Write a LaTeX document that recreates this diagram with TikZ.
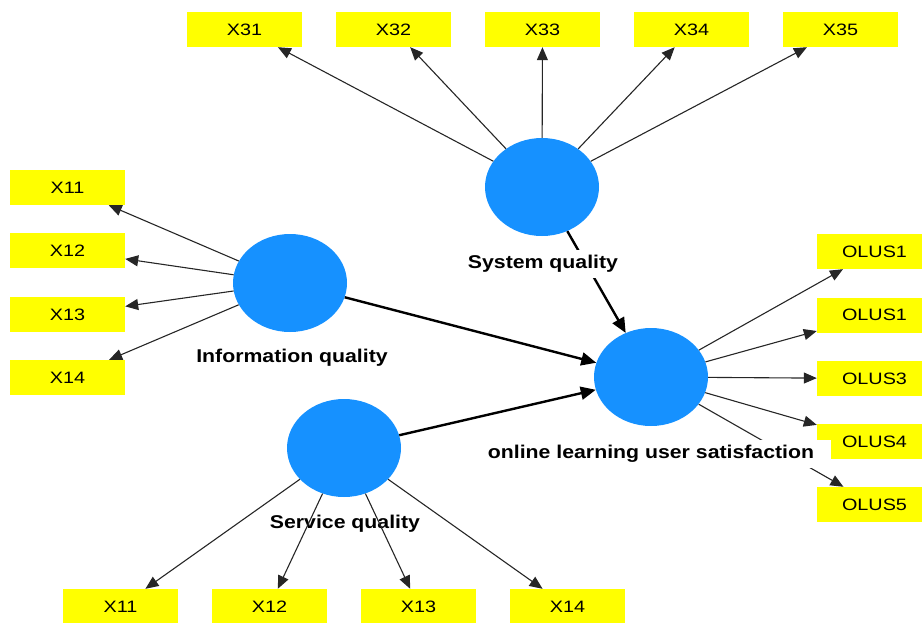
\documentclass[tikz,border=0pt]{standalone}
\usepackage{fontspec}
\newfontfamily\itemfont[FakeStretch=1.2]{Liberation Sans}
\newfontfamily\namefont[FakeStretch=1.15]{Liberation Sans}
\usetikzlibrary{shapes.geometric,arrows.meta}
\definecolor{lvblue}{RGB}{22,145,255}
\definecolor{mvyellow}{RGB}{255,255,0}

\begin{document}
\begin{tikzpicture}[x=1pt,y=-1pt,
  latent/.style={ellipse,fill=lvblue,minimum width=114pt,minimum height=98pt,inner sep=0pt},
  item/.style={rectangle,fill=mvyellow,minimum width=115pt,minimum height=35pt,inner sep=0pt,font=\itemfont\fontsize{16.5}{19}\selectfont},
  lvname/.style={fill=white,inner xsep=17pt,inner ysep=5pt,font=\namefont\bfseries\fontsize{18.5}{21}\selectfont},
  loading/.style={-{Triangle[length=13pt,width=11pt]},line width=1.1pt,black!85},
  structural/.style={-{Triangle[length=15pt,width=13pt]},line width=2.4pt}
]
\clip (0,0) rectangle (922,622);

% Latent variables
\node[latent] (sq) at (542,187) {};
\node[latent] (iq) at (290,283) {};
\node[latent] (svq) at (344,448) {};
\node[latent] (ols) at (651,377) {};

% System quality items
\node[item] (x31) at (244.5,29.5) {X31};
\node[item] (x32) at (393.5,29.5) {X32};
\node[item] (x33) at (542.5,29.5) {X33};
\node[item] (x34) at (691.5,29.5) {X34};
\node[item] (x35) at (840.5,29.5) {X35};

% Information quality items
\node[item] (i11) at (67.5,187.5) {X11};
\node[item] (i12) at (67.5,250.5) {X12};
\node[item] (i13) at (67.5,314.5) {X13};
\node[item] (i14) at (67.5,377.5) {X14};

% Service quality items
\node[item] (s11) at (120.5,606.5) {X11};
\node[item] (s12) at (269.5,606.5) {X12};
\node[item] (s13) at (418.5,606.5) {X13};
\node[item] (s14) at (567.5,606.5) {X14};

% Satisfaction items
\node[item] (o1) at (874.5,251.5) {OLUS1};
\node[item] (o2) at (874.5,315) {OLUS1};
\node[item] (o3) at (874.5,378.5) {OLUS3};
\node[item] (o4) at (874.5,441.5) {OLUS4};
\node[item] (o5) at (874.5,504.5) {OLUS5};

% Service quality name (lines run over it)
\node[lvname,fill=none] (svqname) at (345,524) {Service quality};

% Outer loadings
\draw[loading] (sq) -- (x31);
\draw[loading] (sq) -- (x32);
\draw[loading] (sq) -- (x33);
\draw[loading] (sq) -- (x34);
\draw[loading] (sq) -- (x35);
\draw[loading] (iq) -- (i11);
\draw[loading] (iq) -- (i12);
\draw[loading] (iq) -- (i13);
\draw[loading] (iq) -- (i14);
\draw[loading] (svq) -- (s11);
\draw[loading] (svq) -- (s12);
\draw[loading] (svq) -- (s13);
\draw[loading] (svq) -- (s14);
\draw[loading] (ols) -- (o1);
\draw[loading] (ols) -- (o2);
\draw[loading] (ols) -- (o3);
\draw[loading] (ols) -- (o4);
\draw[loading] (ols) -- (o5);

% Inner model
\draw[structural] (sq) -- (ols);
\draw[structural] (iq) -- (ols);
\draw[structural] (svq) -- (ols);

% Names of the latent variables
\node[lvname] (sqname) at (543,264) {System quality};
\node[lvname] (iqname) at (292,358) {Information quality};
\node[lvname] (olsname) at (651,454) {online learning user satisfaction};
\end{tikzpicture}
\end{document}
